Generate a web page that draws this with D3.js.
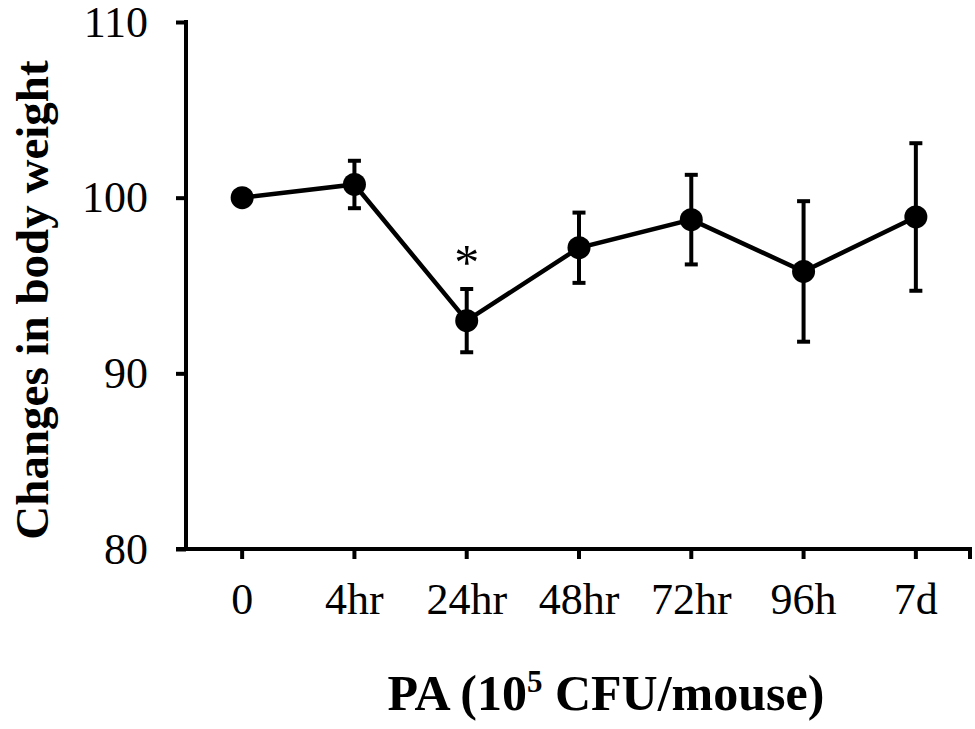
<!DOCTYPE html>
<html>
<head>
<meta charset="utf-8">
<script src="https://cdn.jsdelivr.net/npm/d3@7"></script>
<style>
  html, body { margin: 0; padding: 0; background: #fff; }
  svg { display: block; }
</style>
</head>
<body>
<svg id="chart" width="975" height="729"></svg>
<script>
// Time points after PA challenge
const categories = ["0", "4hr", "24hr", "48hr", "72hr", "96h", "7d"];
// Mean body weight (% of initial) and its error
const weightMean = [100, 100.75, 93.0, 97.15, 98.75, 95.8, 98.9];
const weightErr  = [0, 1.35, 1.8, 2.0, 2.55, 4.0, 4.2];
// Significance markers per time point
const sigMarks = ["", "", "*", "", "", "", ""];
// Y axis ticks
const yTicks = [80, 90, 100, 110];

const svg = d3.select("#chart");
const serif = "'Liberation Serif', 'Times New Roman', serif";

const plotLeft = 186, plotRight = 972, plotTop = 22, plotBottom = 549;

const x = d3.scaleBand().domain(categories).range([plotLeft, plotRight]).padding(0);
const y = d3.scaleLinear().domain([80, 110]).range([plotBottom, plotTop]);
const cx = c => x(c) + x.bandwidth() / 2;

const data = categories.map((c, i) => ({ c, v: weightMean[i], e: weightErr[i], s: sigMarks[i] }));

// Y axis
const yAxis = svg.append("g").attr("transform", `translate(${plotLeft},0)`)
  .call(d3.axisLeft(y).tickValues(yTicks).tickSize(10).tickSizeOuter(0).tickPadding(28));
yAxis.select(".domain").attr("stroke", "#000").attr("stroke-width", 4)
  .attr("d", `M0,${plotTop - 2}V${plotBottom}`);
yAxis.selectAll(".tick line").attr("stroke", "#000").attr("stroke-width", 4);
yAxis.selectAll(".tick text").attr("font-family", serif).attr("font-size", 44).attr("fill", "#000");

// X axis
const xAxis = svg.append("g").attr("transform", `translate(0,${plotBottom})`)
  .call(d3.axisBottom(x).tickSize(10).tickSizeOuter(0).tickPadding(24));
xAxis.select(".domain").attr("stroke", "#000").attr("stroke-width", 4)
  .attr("d", `M${plotLeft - 10},0H${plotRight}`);
xAxis.selectAll(".tick line").attr("stroke", "#000").attr("stroke-width", 4);
xAxis.selectAll(".tick text").attr("font-family", serif).attr("font-size", 44).attr("fill", "#000");
// closing tick at the right end of the axis
xAxis.append("line").attr("x1", plotRight - 2).attr("x2", plotRight - 2).attr("y1", 0).attr("y2", 10)
  .attr("stroke", "#000").attr("stroke-width", 4);

// Error bars
const eb = svg.append("g").selectAll("g").data(data.filter(d => d.e > 0)).join("g");
eb.append("line")
  .attr("x1", d => cx(d.c)).attr("x2", d => cx(d.c))
  .attr("y1", d => y(d.v + d.e)).attr("y2", d => y(d.v - d.e))
  .attr("stroke", "#000").attr("stroke-width", 4);
eb.selectAll("line.cap").data(d => [{ c: d.c, v: d.v + d.e }, { c: d.c, v: d.v - d.e }]).join("line")
  .attr("class", "cap")
  .attr("x1", d => cx(d.c) - 6.5).attr("x2", d => cx(d.c) + 6.5)
  .attr("y1", d => y(d.v)).attr("y2", d => y(d.v))
  .attr("stroke", "#000").attr("stroke-width", 4);

// Mean line
svg.append("path").datum(data)
  .attr("fill", "none").attr("stroke", "#000").attr("stroke-width", 4.5)
  .attr("d", d3.line().x(d => cx(d.c)).y(d => y(d.v)));

// Markers
svg.append("g").selectAll("circle").data(data).join("circle")
  .attr("cx", d => cx(d.c)).attr("cy", d => y(d.v)).attr("r", 11.5).attr("fill", "#000");

// Significance asterisks
svg.append("g").selectAll("text").data(data.filter(d => d.s)).join("text")
  .attr("x", d => cx(d.c)).attr("y", d => y(d.v + d.e) - 10)
  .attr("text-anchor", "middle").attr("font-family", serif).attr("font-size", 50)
  .text(d => d.s);

// Axis titles
svg.append("text")
  .attr("transform", "translate(48,300) rotate(-90)")
  .attr("text-anchor", "middle").attr("font-family", serif).attr("font-weight", "bold")
  .attr("font-size", 47).text("Changes in body weight");

const xt = svg.append("text")
  .attr("x", 606).attr("y", 710).attr("text-anchor", "middle")
  .attr("font-family", serif).attr("font-weight", "bold").attr("font-size", 50);
xt.append("tspan").text("PA (10");
xt.append("tspan").attr("font-size", 31).attr("dy", -18).text("5");
xt.append("tspan").attr("dy", 18).text(" CFU/mouse)");
</script>
</body>
</html>
